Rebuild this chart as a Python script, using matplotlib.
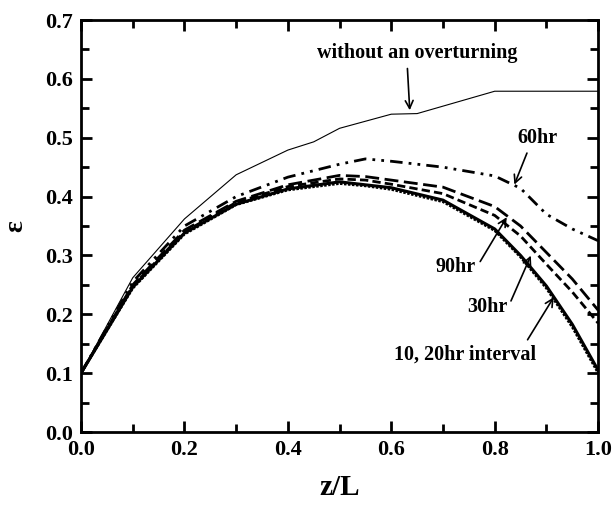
import matplotlib
matplotlib.use("Agg")
import matplotlib.pyplot as plt
from matplotlib.ticker import MultipleLocator

plt.rcParams['font.family'] = ['Liberation Serif', 'DejaVu Serif']
plt.rcParams['font.weight'] = 'bold'

# Data
x_no = [0.0, 0.1, 0.2, 0.3, 0.4, 0.45, 0.5, 0.6, 0.65, 0.8, 1.0]
y_no = [0.10, 0.262, 0.362, 0.437, 0.479, 0.493, 0.516, 0.540, 0.541, 0.579, 0.579]

x_c = [0.0, 0.1, 0.2, 0.3, 0.4, 0.5, 0.55, 0.6, 0.7, 0.8, 0.85, 0.9, 0.95, 1.0]
y_60 = [0.10, 0.255, 0.350, 0.400, 0.433, 0.455, 0.464, 0.460, 0.450, 0.435, 0.414, 0.370, 0.345, 0.325]
y_90 = [0.10, 0.250, 0.343, 0.392, 0.420, 0.436, 0.434, 0.428, 0.416, 0.383, 0.350, 0.305, 0.260, 0.207]
y_30 = [0.10, 0.248, 0.340, 0.390, 0.417, 0.430, 0.428, 0.421, 0.405, 0.368, 0.333, 0.285, 0.238, 0.185]
y_10 = [0.10, 0.246, 0.338, 0.387, 0.413, 0.425, 0.420, 0.415, 0.394, 0.345, 0.300, 0.248, 0.183, 0.105]
y_20 = [0.10, 0.244, 0.336, 0.386, 0.411, 0.422, 0.418, 0.412, 0.391, 0.342, 0.297, 0.244, 0.178, 0.100]

fig = plt.figure(figsize=(6.16, 5.17), dpi=100)
ax = fig.add_axes([0.1315, 0.1644, 0.8395, 0.7969])

ax.plot(x_no, y_no, color='black', lw=0.8)
ax.plot(x_c, y_60, color='black', lw=2, dashes=(4.5, 2.2, 1, 2.2, 1, 2.2))
ax.plot(x_c, y_90, color='black', lw=2, dashes=(5, 2))
ax.plot(x_c, y_30, color='black', lw=2, dashes=(3, 1.5))
ax.plot(x_c, y_10, color='black', lw=2.2)
ax.plot(x_c, y_20, color='black', lw=1.8, dashes=(1, 0.6))

ax.set_xlim(0, 1.0)
ax.set_ylim(0, 0.7)
ax.xaxis.set_major_locator(MultipleLocator(0.2))
ax.xaxis.set_minor_locator(MultipleLocator(0.1))
ax.yaxis.set_major_locator(MultipleLocator(0.1))
ax.yaxis.set_minor_locator(MultipleLocator(0.05))
ax.tick_params(which='both', direction='in', top=True, right=True, width=2,
               labelsize=16, pad=6)
ax.tick_params(which='major', length=8)
ax.tick_params(which='minor', length=6)
ax.set_xticklabels([f"{v:.1f}" for v in ax.get_xticks()], fontweight='bold')
ax.set_yticklabels([f"{v:.1f}" for v in ax.get_yticks()], fontweight='bold')
for s in ax.spines.values():
    s.set_linewidth(2)

ax.set_xlabel('z/L', fontsize=21, fontweight='bold', labelpad=10)
ax.set_ylabel('ε', fontsize=20, fontweight='bold', labelpad=12)

ap = dict(arrowstyle='->', color='black', lw=1.2, mutation_scale=14)
fs = 14.5
ax.annotate('without an overturning', xy=(0.636, 0.542), xytext=(0.65, 0.644),
            ha='center', va='center', fontsize=fs, fontweight='bold',
            arrowprops=dict(ap, relpos=(0.45, 0.0)))
ax.annotate('60hr', xy=(0.836, 0.416), xytext=(0.882, 0.50),
            ha='center', va='center', fontsize=fs, fontweight='bold',
            arrowprops=dict(ap, relpos=(0.3, 0.0)))
ax.annotate('90hr', xy=(0.826, 0.369), xytext=(0.725, 0.28),
            ha='center', va='center', fontsize=fs, fontweight='bold',
            arrowprops=dict(ap, relpos=(1.05, 0.6)))
ax.annotate('30hr', xy=(0.872, 0.304), xytext=(0.785, 0.212),
            ha='center', va='center', fontsize=fs, fontweight='bold',
            arrowprops=dict(ap, relpos=(1.05, 0.6)))
ax.annotate('10, 20hr interval', xy=(0.917, 0.233), xytext=(0.742, 0.131),
            ha='center', va='center', fontsize=fs, fontweight='bold',
            arrowprops=dict(ap, relpos=(0.92, 1.0)))

fig.savefig('out.png', dpi=100)
